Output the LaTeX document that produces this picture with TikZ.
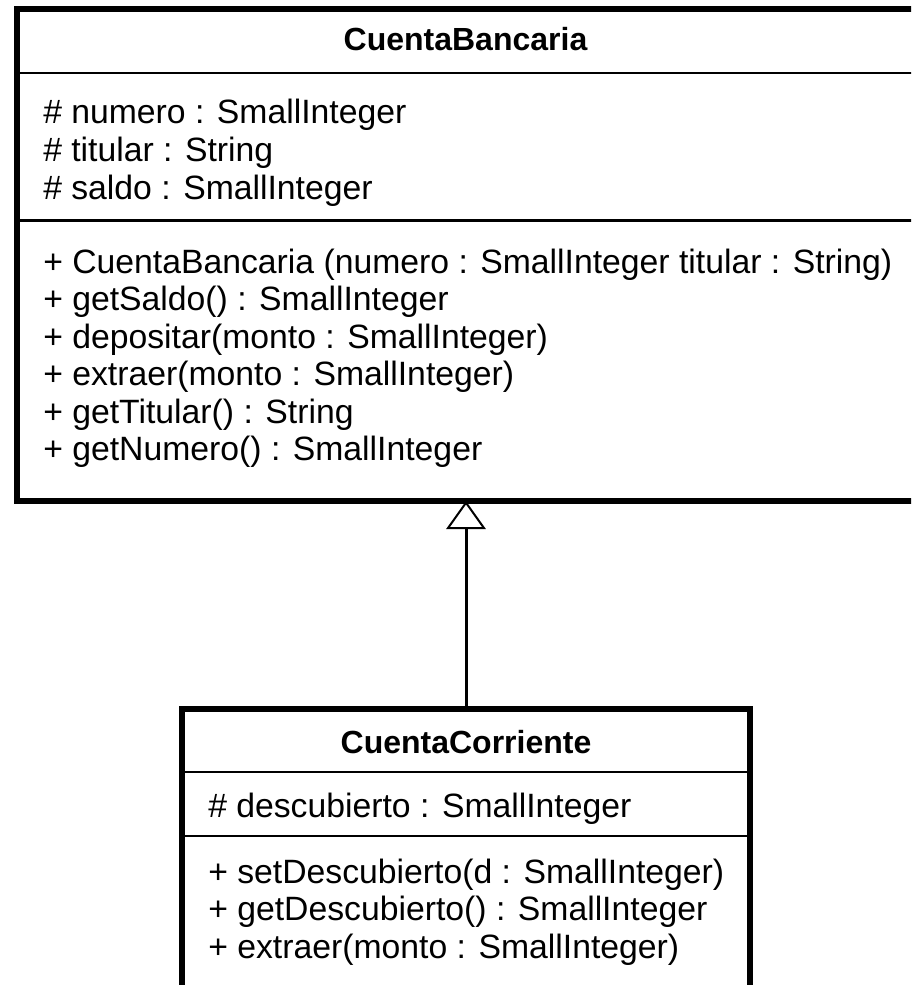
\documentclass[tikz,border=0pt]{standalone}
\usepackage{fontspec}
\setmainfont{Liberation Sans}
\usetikzlibrary{arrows.meta}

\begin{document}
\begin{tikzpicture}[x=0.75pt,y=-0.75pt,
  classbox/.style={draw=black, line width=4.5pt, fill=none, inner sep=0pt, outer sep=0pt},
  divider/.style={draw=black, line width=2.2pt},
  classname/.style={anchor=base, inner sep=0pt, font=\fontsize{24}{28}\selectfont\bfseries},
  member/.style={anchor=base west, inner sep=0pt, font=\fontsize{25.3}{30}\selectfont},
  inherit/.style={draw=black, line width=2.25pt,
    -{Triangle[open, length=21pt, width=29.5pt, line width=1.5pt, fill=white]}}
]
\clip (0,0) rectangle (911,985);
\fill[white] (0,0) rectangle (911,985);

% superclass box (runs past the right edge)
\node[classbox, minimum width=707.25pt, minimum height=369pt] (cb) at (488.5,255) {};
\draw[divider] (cb.west |- 0,73) -- (cb.east |- 0,73);
\draw[divider] (cb.west |- 0,220.5) -- (cb.east |- 0,220.5);

\node[classname] (cbname) at (465.5,50) {CuentaBancaria};
\node[member] (a1) at (43,123) {\# numero : SmallInteger};
\node[member] (a2) at (43,161) {\# titular : String};
\node[member] (a3) at (43,199) {\# saldo : SmallInteger};
\node[member] (m1) at (43,273) {+ CuentaBancaria (numero : SmallInteger titular : String)};
\node[member] (m2) at (43,310.5) {+ getSaldo() : SmallInteger};
\node[member] (m3) at (43,348) {+ depositar(monto : SmallInteger)};
\node[member] (m4) at (43,385.5) {+ extraer(monto : SmallInteger)};
\node[member] (m5) at (43,423) {+ getTitular() : String};
\node[member] (m6) at (43,460.5) {+ getNumero() : SmallInteger};

% subclass box (runs past the bottom edge)
\node[classbox, minimum width=426pt, minimum height=256.125pt] (cc) at (466,879.25) {};
\draw[divider] (cc.west |- 0,772) -- (cc.east |- 0,772);
\draw[divider] (cc.west |- 0,836) -- (cc.east |- 0,836);

\node[classname] (ccname) at (466,753) {CuentaCorriente};
\node[member] (b1) at (208,817) {\# descubierto : SmallInteger};
\node[member] (n1) at (208,883) {+ setDescubierto(d : SmallInteger)};
\node[member] (n2) at (208,920.5) {+ getDescubierto() : SmallInteger};
\node[member] (n3) at (208,958) {+ extraer(monto : SmallInteger)};

% generalization
\draw[inherit] (cc.north) -- (cc.north |- cb.south);
\end{tikzpicture}
\end{document}
